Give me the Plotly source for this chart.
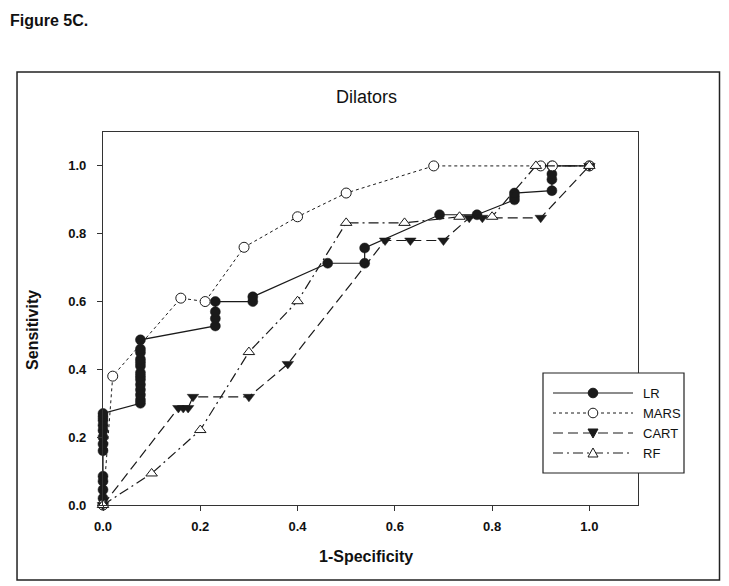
import plotly.graph_objects as go

# ---- data ----
lr_x = [0, 0, 0, 0, 0, 0, 0, 0, 0, 0, 0, 0, 0,
        0.077, 0.077, 0.077, 0.077, 0.077, 0.077, 0.077, 0.077, 0.077, 0.077, 0.077, 0.077, 0.077, 0.077,
        0.231, 0.231, 0.231, 0.231,
        0.308, 0.308,
        0.462, 0.538, 0.538,
        0.692, 0.769,
        0.846, 0.846, 0.846,
        0.923, 0.923, 0.923, 0.923,
        1.0]
lr_y = [0.0, 0.02, 0.045, 0.07, 0.085, 0.16, 0.18, 0.2, 0.22, 0.235, 0.25, 0.26, 0.27,
        0.30, 0.31, 0.325, 0.34, 0.355, 0.37, 0.38, 0.39, 0.41, 0.42, 0.43, 0.45, 0.46, 0.487,
        0.528, 0.55, 0.57, 0.60,
        0.60, 0.614,
        0.713, 0.713, 0.758,
        0.856, 0.856,
        0.90, 0.91, 0.92,
        0.927, 0.96, 0.976, 1.0,
        1.0]

mars_x = [0, 0.02, 0.16, 0.21, 0.29, 0.40, 0.50, 0.68, 0.90, 0.924, 1.0]
mars_y = [0, 0.38, 0.61, 0.60, 0.76, 0.85, 0.92, 1.0, 1.0, 1.0, 1.0]

cart_x = [0, 0.155, 0.165, 0.175, 0.185, 0.30, 0.38, 0.58, 0.632, 0.70, 0.753, 0.78, 0.90, 1.0]
cart_y = [0, 0.286, 0.286, 0.286, 0.319, 0.319, 0.416, 0.78, 0.78, 0.78, 0.847, 0.847, 0.847, 1.0]

rf_x = [0, 0.10, 0.20, 0.30, 0.40, 0.50, 0.62, 0.733, 0.80, 0.89, 1.0]
rf_y = [0, 0.093, 0.221, 0.451, 0.601, 0.832, 0.832, 0.85, 0.85, 1.0, 1.0]

series_names = ["LR", "MARS", "CART", "RF"]

x_ticks = [0.0, 0.2, 0.4, 0.6, 0.8, 1.0]
y_ticks = [0.0, 0.2, 0.4, 0.6, 0.8, 1.0]
tick_text = ["0.0", "0.2", "0.4", "0.6", "0.8", "1.0"]

FONT = "Arial, Liberation Sans, sans-serif"
INK = "#1a1a1a"

styles = {
    "LR":   dict(dash="solid", sym="circle", fill=INK),
    "MARS": dict(dash="dot", sym="circle", fill="white"),
    "CART": dict(dash="10px,5px", sym="triangle-down", fill=INK),
    "RF":   dict(dash="10px,4px,2px,4px", sym="triangle-up", fill="white"),
}
series = {"LR": (lr_x, lr_y), "MARS": (mars_x, mars_y), "CART": (cart_x, cart_y), "RF": (rf_x, rf_y)}

fig = go.Figure()
for name in series_names:
    xs, ys = series[name]
    st = styles[name]
    fig.add_trace(go.Scatter(
        x=xs, y=ys, name=name, mode="lines+markers", cliponaxis=False,
        line=dict(color=INK, width=1 if name == "MARS" else 1.2, dash=st["dash"]),
        marker=dict(symbol=st["sym"], size=10, color=st["fill"],
                    line=dict(color=INK, width=1 if st["fill"] == "white" else 0.5))))

axis_common = dict(showgrid=False, zeroline=False, showline=True, linecolor="#333", linewidth=1.2,
                   mirror=True, ticks="outside", ticklen=5, tickcolor="#333", tickwidth=1,
                   tickfont=dict(family=FONT, size=13, color="#111", weight="bold"))

fig.update_xaxes(range=[0, 1.1], tickvals=x_ticks, ticktext=tick_text, ticklabelstandoff=4, **axis_common)
fig.update_yaxes(range=[0, 1.1], tickvals=y_ticks, ticktext=tick_text, ticklabelstandoff=8, **axis_common)

# ---- manual legend (paper coordinates; plot area 535 x 373 px) ----
PW, PH = 535.0, 373.0
def px(sx):  # screen x -> paper x
    return (sx - 103) / PW
def py(sy):  # screen y -> paper y
    return (505 - sy) / PH

shapes = [dict(type="rect", xref="paper", yref="paper",
               x0=-0.1607, x1=(719.5 - 103) / PW, y0=-0.201, y1=1.161,
               line=dict(color="#222", width=1.5))]
annotations = []

shapes.append(dict(type="rect", xref="paper", yref="paper", layer="above",
                   x0=px(543), x1=px(684), y0=py(473), y1=py(373),
                   fillcolor="white", line=dict(color="#222", width=1.2)))
row_y = [393, 413, 433, 453]
mx = 593
r = 4.8
for name, sy in zip(series_names, row_y):
    st = styles[name]
    shapes.append(dict(type="line", xref="paper", yref="paper", layer="above",
                       x0=px(553), x1=px(633), y0=py(sy), y1=py(sy),
                       line=dict(color=INK, width=1 if name == "MARS" else 1.2, dash=st["dash"])))
    if st["sym"] == "circle":
        shapes.append(dict(type="circle", xref="paper", yref="paper", layer="above",
                           x0=px(mx - r), x1=px(mx + r), y0=py(sy + r), y1=py(sy - r),
                           fillcolor=st["fill"], line=dict(color=INK, width=1)))
    else:
        h = 5.0
        if st["sym"] == "triangle-down":
            pts = [(mx - h, sy - h * 0.8), (mx + h, sy - h * 0.8), (mx, sy + h)]
        else:
            pts = [(mx - h, sy + h * 0.8), (mx + h, sy + h * 0.8), (mx, sy - h)]
        path = "M " + " L ".join(f"{px(a):.5f},{py(b):.5f}" for a, b in pts) + " Z"
        shapes.append(dict(type="path", xref="paper", yref="paper", layer="above", path=path,
                           fillcolor=st["fill"], line=dict(color=INK, width=1)))
    annotations.append(dict(text=name, xref="paper", yref="paper", x=px(641), y=py(sy),
                            showarrow=False, xanchor="left", yanchor="middle",
                            font=dict(family=FONT, size=13, color="#111")))

annotations += [
    dict(text="Dilators", xref="paper", yref="paper", x=0.492, y=1.094,
         showarrow=False, xanchor="center", yanchor="middle",
         font=dict(family=FONT, size=18, color="#111")),
    dict(text="<b>1-Specificity</b>", xref="paper", yref="paper", x=0.492, y=-0.137,
         showarrow=False, xanchor="center", yanchor="middle",
         font=dict(family=FONT, size=16, color="#111")),
    dict(text="<b>Sensitivity</b>", xref="paper", yref="paper", x=-0.133, y=0.469,
         showarrow=False, xanchor="center", yanchor="middle", textangle=-90,
         font=dict(family=FONT, size=16, color="#111")),
    dict(text="<b>Figure 5C.</b>", xref="paper", yref="paper",
         x=px(8), y=py(20),
         showarrow=False, xanchor="left", yanchor="middle",
         font=dict(family=FONT, size=16, color="#111")),
]

fig.update_layout(
    width=713, height=578,
    margin=dict(l=95, r=83, t=124, b=81),
    paper_bgcolor="white", plot_bgcolor="white",
    font=dict(family=FONT, color="#111"),
    showlegend=False,
    shapes=shapes,
    annotations=annotations,
)

fig.write_html("out.html")
